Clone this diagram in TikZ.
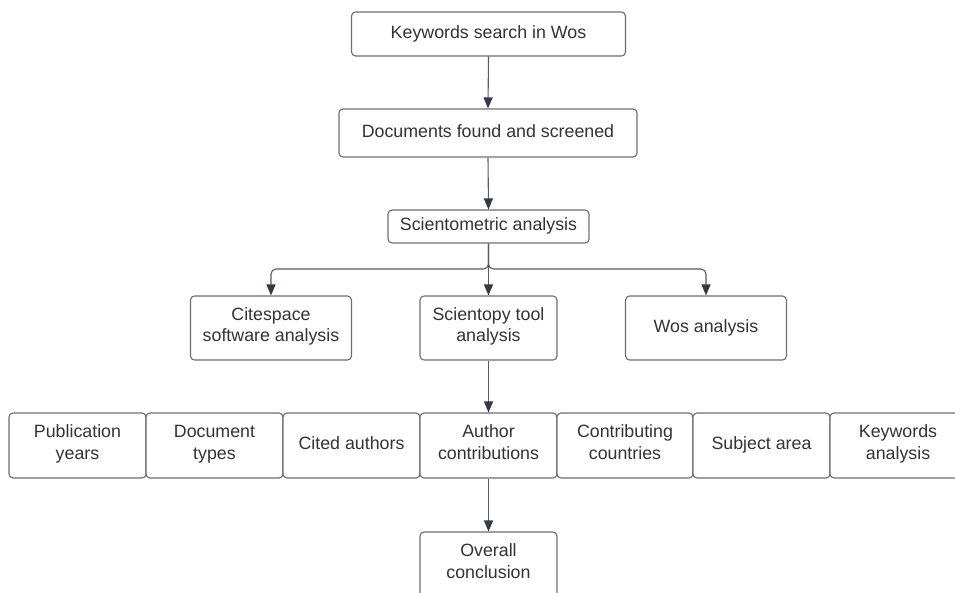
\documentclass[tikz,border=0pt]{standalone}
\usepackage{fontspec}
\setmainfont{Liberation Sans}
\usetikzlibrary{arrows.meta}
\definecolor{boxline}{HTML}{6E6E6E}
\definecolor{txt}{HTML}{333333}
\definecolor{conn}{HTML}{5A5A5A}
\definecolor{tip}{HTML}{333A45}
\begin{document}
\begin{tikzpicture}[x=1pt,y=-1pt,
  box/.style={draw=boxline,line width=1.1pt,rounded corners=4pt,fill=white,
    text=txt,align=center,inner sep=0pt,
    font=\fontsize{17.8}{21.5}\selectfont,
    execute at begin node={\strut},execute at end node={\strut}},
  arr/.style={draw=conn,line width=1.1pt,
    -{Triangle[length=11pt,width=9pt,fill=tip,color=tip]}}]
\path[use as bounding box] (0,0) rectangle (955,592);
\clip (0,0) rectangle (955,592);
% top chain
\node[box,minimum width=274pt,minimum height=44pt] (kw) at (488.5,34) {Keywords search in Wos};
\node[box,minimum width=298pt,minimum height=48pt] (doc) at (488,133) {Documents found and screened};
\node[box,minimum width=201pt,minimum height=33pt] (sci) at (488.5,226.5) {Scientometric analysis};
% tools
\node[box,minimum width=161pt,minimum height=64pt] (cite) at (271,328) {Citespace\\software analysis};
\node[box,minimum width=137pt,minimum height=64pt] (topy) at (488.5,328) {Scientopy tool\\analysis};
\node[box,minimum width=161pt,minimum height=64pt] (wos) at (706,328) {Wos analysis};
% bottom row
\node[box,minimum width=137pt,minimum height=65pt] (pub) at (77.5,445.5) {Publication\\years};
\node[box,minimum width=137pt,minimum height=65pt] (dtype) at (214.5,445.5) {Document\\types};
\node[box,minimum width=137pt,minimum height=65pt] (cited) at (351.5,445.5) {Cited authors};
\node[box,minimum width=137pt,minimum height=65pt] (auth) at (488.5,445.5) {Author\\contributions};
\node[box,minimum width=136pt,minimum height=65pt] (ctry) at (625,445.5) {Contributing\\countries};
\node[box,minimum width=137pt,minimum height=65pt] (subj) at (761.5,445.5) {Subject area};
\node[box,minimum width=136pt,minimum height=65pt] (kwa) at (898,445.5) {Keywords\\analysis};
\node[box,minimum width=137pt,minimum height=65pt] (overall) at (488.5,564.5) {Overall\\conclusion};
% connectors
\coordinate (split) at (488.5,269);
\draw[arr] (kw.south) -- (doc.north);
\draw[arr] (doc.south) -- (sci.north);
\draw[arr,rounded corners=5pt] (sci.south) -- (split) -| (cite.north);
\draw[arr,rounded corners=5pt] (sci.south) -- (split) -| (wos.north);
\draw[arr] (sci.south) -- (topy.north);
\draw[arr] (topy.south) -- (auth.north);
\draw[arr] (auth.south) -- (overall.north);
\end{tikzpicture}
\end{document}
